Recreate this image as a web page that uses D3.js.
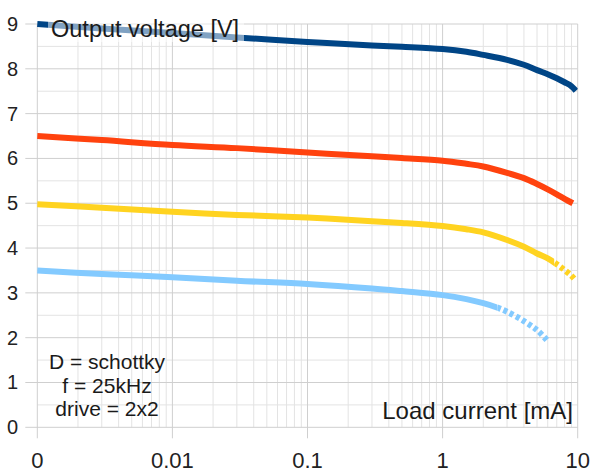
<!DOCTYPE html>
<html lang="en">

<head>
  <meta charset="UTF-8">
  <title>Output voltage vs load current</title>
  <script src="https://cdn.jsdelivr.net/npm/d3@7.6.1/dist/d3.min.js"></script>
  <style>
    body { margin: 0; background: #fff; }
    svg { display: block; font-family: "Liberation Sans", Arial, sans-serif; }
  </style>
</head>

<body>
  <div id="box"></div>
  <script>
    const width = 598
    const height = 473
    const margin = { left: 37.3, right: 20.3, top: 24, bottom: 45.7 }

    // x ticks (log scale, the first one is labelled "0")
    const xTicks = [0.001, 0.01, 0.1, 1, 10]
    const xTickLabels = ['0', '0.01', '0.1', '1', '10']
    const yTicks = [0, 1, 2, 3, 4, 5, 6, 7, 8, 9]

    // series: load current [mA] and output voltage [V]
    const names = ['s1', 's2', 's3', 's4']
    const colors = ['#004586', '#ff420e', '#ffd320', '#83caff']
    const currents = [
      [0.001, 0.003, 0.01, 0.03, 0.1, 0.3, 0.5, 1, 1.5, 2, 3, 4, 5, 6, 7, 8, 9, 9.7],
      [0.001, 0.003, 0.01, 0.03, 0.1, 0.3, 0.5, 1, 1.5, 2, 3, 4, 5, 6, 7, 8, 9.2],
      [0.001, 0.003, 0.01, 0.03, 0.1, 0.3, 0.5, 1, 1.5, 2, 3, 4, 5, 6, 7, 8, 9, 9.7],
      [0.001, 0.003, 0.01, 0.03, 0.1, 0.3, 0.5, 1, 1.5, 2, 2.55, 3, 4, 5, 5.9]
    ]
    const voltages = [
      [9.0, 8.9, 8.8, 8.7, 8.6, 8.52, 8.49, 8.44, 8.38, 8.31, 8.2, 8.09, 7.97, 7.88, 7.79, 7.7, 7.61, 7.51],
      [6.5, 6.41, 6.3, 6.23, 6.13, 6.05, 6.01, 5.95, 5.88, 5.82, 5.68, 5.56, 5.43, 5.31, 5.2, 5.1, 5.0],
      [4.98, 4.9, 4.81, 4.74, 4.68, 4.6, 4.56, 4.49, 4.42, 4.35, 4.18, 4.03, 3.88, 3.77, 3.64, 3.51, 3.38, 3.27],
      [3.5, 3.42, 3.35, 3.27, 3.2, 3.1, 3.04, 2.95, 2.86, 2.77, 2.67, 2.58, 2.37, 2.17, 1.95]
    ]
    // current where the solid part stops, the rest is dotted
    const solidEnd = [10, 10, 6.7, 2.55]

    const notes = ['D = schottky', 'f = 25kHz', 'drive = 2x2']

    const svg = d3.select('#box').append('svg')
      .attr('width', width)
      .attr('height', height)

    const xScale = d3.scaleLog().domain([0.001, 10]).range([margin.left, width - margin.right])
    const yScale = d3.scaleLinear().domain([0, 9]).range([height - margin.bottom, margin.top])

    // grid
    const grid = svg.append('g')
    const minorX = []
    for (let d = 0.001; d < 10; d *= 10) {
      for (let k = 2; k <= 9; k++) minorX.push(d * k)
    }
    grid.selectAll('.minx').data(minorX).join('line')
      .attr('x1', d => xScale(d)).attr('x2', d => xScale(d))
      .attr('y1', yScale(0)).attr('y2', yScale(9))
      .attr('stroke', '#e3e3e3').attr('stroke-width', 1)
    const minorY = d3.range(0.5, 9, 1)
    grid.selectAll('.miny').data(minorY).join('line')
      .attr('x1', xScale(0.001)).attr('x2', xScale(10))
      .attr('y1', d => yScale(d)).attr('y2', d => yScale(d))
      .attr('stroke', '#e3e3e3').attr('stroke-width', 1)
    grid.selectAll('.majx').data(xTicks).join('line')
      .attr('x1', d => xScale(d)).attr('x2', d => xScale(d))
      .attr('y1', yScale(0) + 11).attr('y2', yScale(9))
      .attr('stroke', '#cfcfcf').attr('stroke-width', 1)
    grid.selectAll('.majy').data(yTicks).join('line')
      .attr('x1', xScale(0.001) - 12).attr('x2', xScale(10))
      .attr('y1', d => yScale(d)).attr('y2', d => yScale(d))
      .attr('stroke', '#cfcfcf').attr('stroke-width', 1)

    // tick labels
    svg.append('g').selectAll('text').data(yTicks).join('text')
      .attr('x', 18).attr('y', d => yScale(d) + 7)
      .attr('text-anchor', 'end').attr('font-size', 20).attr('fill', '#222')
      .text(d => d)
    svg.append('g').selectAll('text').data(xTicks).join('text')
      .attr('x', d => xScale(d)).attr('y', 468)
      .attr('text-anchor', 'middle').attr('font-size', 22).attr('fill', '#222')
      .text((d, i) => xTickLabels[i])

    // curves: one smooth path per series, clipped into solid and dotted parts
    const line = d3.line()
      .x(d => xScale(d[0]))
      .y(d => yScale(d[1]))
      .curve(d3.curveCatmullRom.alpha(0.5))

    const defs = svg.append('defs')
    const curves = svg.append('g')
    names.forEach((name, i) => {
      const pts = currents[i].map((c, j) => [c, voltages[i][j]])
      const split = xScale(solidEnd[i])
      defs.append('clipPath').attr('id', 'solid-' + name)
        .append('rect').attr('x', 0).attr('y', 0).attr('width', split).attr('height', height)
      defs.append('clipPath').attr('id', 'dot-' + name)
        .append('rect').attr('x', split).attr('y', 0).attr('width', width - split).attr('height', height)
      curves.append('path').datum(pts)
        .attr('d', line).attr('fill', 'none')
        .attr('clip-path', `url(#solid-${name})`)
        .attr('stroke', colors[i]).attr('stroke-width', 6)
      if (solidEnd[i] < d3.max(currents[i])) {
        curves.append('path').datum(pts)
          .attr('d', line).attr('fill', 'none')
          .attr('clip-path', `url(#dot-${name})`)
          .attr('stroke', colors[i]).attr('stroke-width', 6)
          .attr('stroke-dasharray', '4,3')
      }
    })

    // axis titles
    svg.append('rect')
      .attr('x', 48).attr('y', 12).attr('width', 196).attr('height', 30)
      .attr('fill', '#fff').attr('fill-opacity', 0.5)
    svg.append('text')
      .attr('x', 51).attr('y', 36.5)
      .attr('font-size', 23.5).attr('fill', '#1a1a1a')
      .text('Output voltage [V]')
    svg.append('text')
      .attr('x', 573).attr('y', 419)
      .attr('text-anchor', 'end').attr('font-size', 24).attr('fill', '#1a1a1a')
      .text('Load current [mA]')

    // conditions
    svg.append('g').selectAll('text').data(notes).join('text')
      .attr('x', 107).attr('y', (d, i) => 369 + i * 23.5)
      .attr('text-anchor', 'middle').attr('font-size', 21).attr('fill', '#1a1a1a')
      .text(d => d)
  </script>
</body>

</html>
